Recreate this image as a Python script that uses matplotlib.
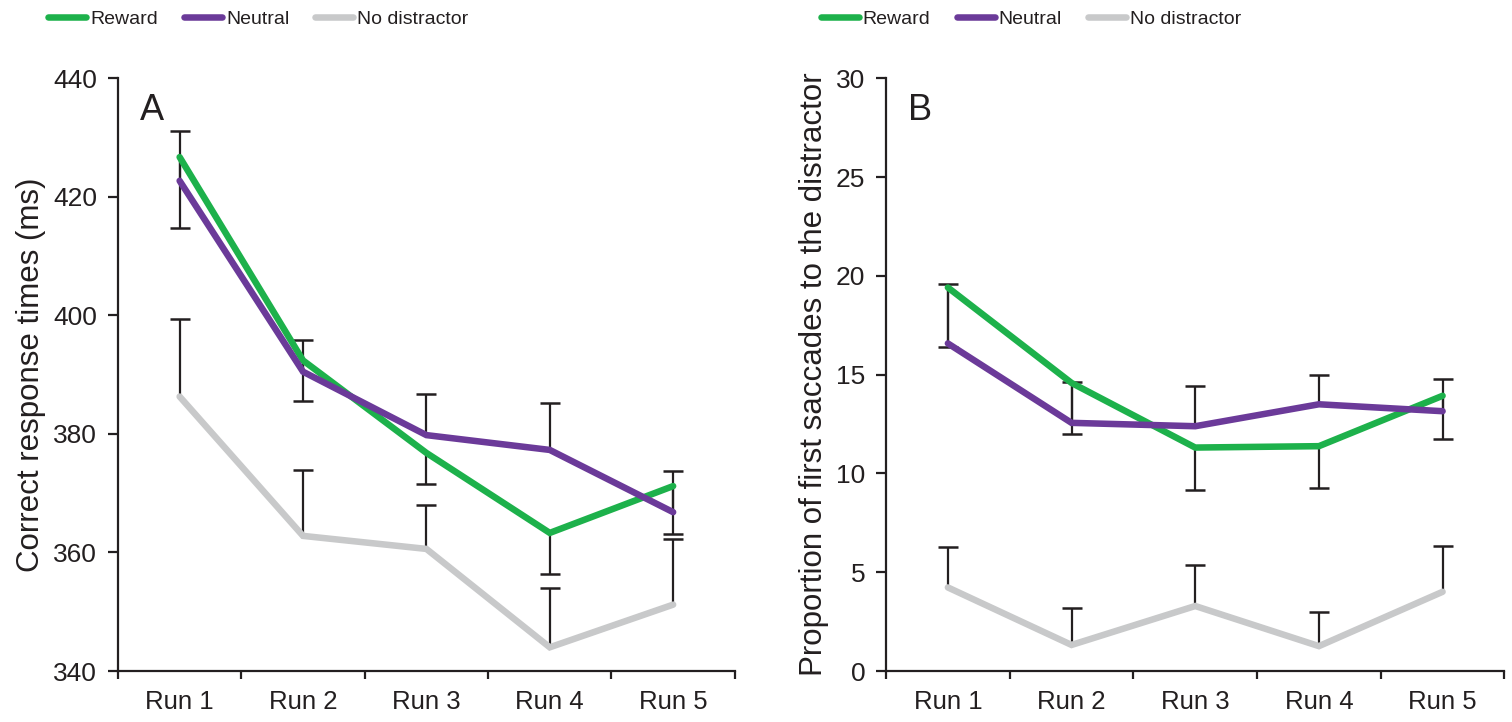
import numpy as np
import matplotlib
matplotlib.use("Agg")
import matplotlib.pyplot as plt
from matplotlib.lines import Line2D

plt.rcParams['font.family'] = ['Liberation Sans', 'DejaVu Sans']

runs = ["Run 1", "Run 2", "Run 3", "Run 4", "Run 5"]

# Panel A: correct response times (ms)
rt_reward = [426.7, 392.4, 376.8, 363.3, 371.2]
rt_neutral = [422.7, 390.5, 379.8, 377.3, 366.8]
rt_none = [386.3, 362.8, 360.6, 344.0, 351.2]
# error bars are one-sided: reward down, neutral and no distractor up
rt_reward_err = [11.9, 6.8, 5.3, 7.0, 8.0]
rt_neutral_err = [8.4, 5.4, 7.0, 8.0, 6.9]
rt_none_err = [13.1, 11.1, 7.4, 10.0, 11.0]

# Panel B: proportion of first saccades to the distractor
sac_reward = [19.41, 14.58, 11.31, 11.38, 13.93]
sac_neutral = [16.58, 12.56, 12.39, 13.50, 13.15]
sac_none = [4.23, 1.32, 3.29, 1.26, 4.01]
sac_reward_err = [3.01, 2.56, 2.15, 2.14, 2.21]
sac_neutral_err = [3.03, 2.09, 2.03, 1.47, 1.65]
sac_none_err = [2.06, 1.85, 2.07, 1.74, 2.33]

labels = ["Reward", "Neutral", "No distractor"]
colors = ["#1db14b", "#6b3a99", "#c8c9ca"]
ink = "#231f20"


def draw_panel(ax, series, errs, directions, ylim, yticks, ylabel, letter):
    x = np.arange(1, len(runs) + 1)
    for vals, err, d in zip(series, errs, directions):
        vals = np.array(vals)
        ends = vals - np.array(err) if d == "down" else vals + np.array(err)
        ax.vlines(x, vals, ends, color=ink, lw=1.6, zorder=2)
        ax.plot(x, ends, ls="none", marker="_", ms=14, mew=1.8, color=ink, zorder=2)
    for vals, c in zip(series, colors):
        ax.plot(x, vals, color=c, lw=4.7, solid_capstyle="round",
                solid_joinstyle="miter", zorder=3)

    ax.set_xlim(0.5, len(runs) + 0.5)
    ax.set_ylim(*ylim)
    ax.set_yticks(yticks)
    ax.set_xticks(x)
    ax.set_xticklabels(runs)
    ax.set_xticks(np.arange(0.5, len(runs) + 1), minor=True)
    ax.tick_params(axis="x", which="major", length=0, pad=14, labelsize=18.5,
                   labelcolor=ink)
    ax.tick_params(axis="x", which="minor", length=6, width=1.6, color=ink)
    ax.tick_params(axis="y", length=7, width=1.6, color=ink, pad=8,
                   labelsize=19, labelcolor=ink)
    for s in ["top", "right"]:
        ax.spines[s].set_visible(False)
    for s in ["left", "bottom"]:
        ax.spines[s].set_linewidth(1.6)
        ax.spines[s].set_color(ink)
    ax.set_ylabel(ylabel, fontsize=22.5, labelpad=5, color=ink)
    ax.text(0.036, 0.946, letter, transform=ax.transAxes, fontsize=26,
            va="center", ha="left", color=ink)


fig = plt.figure(figsize=(15.12, 7.22), dpi=100)
ax_a = fig.add_axes([0.078, 0.0706, 0.408, 0.821])
ax_b = fig.add_axes([0.586, 0.0706, 0.409, 0.821])

draw_panel(ax_a, [rt_reward, rt_neutral, rt_none],
           [rt_reward_err, rt_neutral_err, rt_none_err],
           ["down", "up", "up"], (340, 440), np.arange(340, 441, 20),
           "Correct response times (ms)", "A")
draw_panel(ax_b, [sac_reward, sac_neutral, sac_none],
           [sac_reward_err, sac_neutral_err, sac_none_err],
           ["down", "up", "up"], (0, 30), np.arange(0, 31, 5),
           "Proportion of first saccades to the distractor", "B")

handles = [Line2D([], [], color=c, lw=4.7, solid_capstyle="round") for c in colors]
for lx in [0.032, 0.543]:
    fig.legend(handles, labels, loc="center left", bbox_to_anchor=(lx, 0.973),
               ncol=3, frameon=False, handlelength=1.95, handletextpad=0.2,
               columnspacing=1.35, borderpad=0, borderaxespad=0,
               prop={"size": 14}, labelcolor=ink)

fig.savefig("out.png", dpi=100)
